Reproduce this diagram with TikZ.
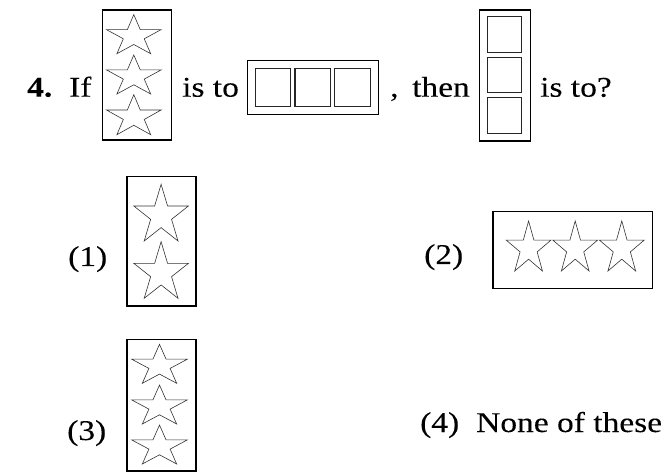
\documentclass[tikz,border=0pt]{standalone}
\usepackage{fontspec}
\setmainfont[FakeStretch=1.17,FakeBold=0.1]{Liberation Serif}
\begin{document}
\begin{tikzpicture}[x=1pt,y=-1pt,
  framebox/.style={draw=black, line width=1.4pt, inner sep=0pt, outer sep=0pt},
  cellbox/.style={draw=black!85, line width=1.1pt, inner sep=0pt, outer sep=0pt},
  starline/.style={draw=black!80, line width=0.6pt, line join=miter},
  txt/.style={anchor=base west, inner sep=0pt, font=\fontsize{28.6}{33}\selectfont}]
\useasboundingbox[fill=white] (0,0) rectangle (670,473);
\newcommand\drawstar[4]{%
  \begin{scope}[shift={(#1,#2)}, x=#3pt, y=-#4pt]
    \draw[starline] (0,0) -- (-0.118,0.382) -- (-0.5,0.382) -- (-0.191,0.618) -- (-0.309,1)
      -- (0,0.764) -- (0.309,1) -- (0.191,0.618) -- (0.5,0.382) -- (0.118,0.382) -- cycle;
  \end{scope}}
% question line
\node[txt, font=\fontsize{28.6}{33}\selectfont\bfseries] (qn) at (27,96.7) {4.};
\node[txt] (tif) at (69,96.7) {If};
\node[txt] (tis1) at (182,96.7) {is to};
\node[txt] (tcomma) at (390,96.7) {,};
\node[txt] (tthen) at (412,96.7) {then};
\node[txt] (tis2) at (540,96.7) {is to?};
% box 1: three stars
\node[framebox, minimum width=69.2pt, minimum height=130.1pt] (b1) at (136.95,75) {};
\drawstar{133.8}{14.7}{54.7}{39}
\drawstar{133.8}{55}{54.7}{39}
\drawstar{133.8}{94.7}{54.7}{40}
% box 2: three cells in a row
\node[framebox, minimum width=130.7pt, minimum height=54pt] (b2) at (313,87.65) {};
\node[cellbox, minimum width=35.3pt, minimum height=37.2pt] (c21) at (272.9,87.5) {};
\node[cellbox, minimum width=35.3pt, minimum height=37.2pt] (c22) at (312.6,87.5) {};
\node[cellbox, minimum width=35.3pt, minimum height=37.2pt] (c23) at (352.5,87.5) {};
% box 3: three cells in a column
\node[framebox, minimum width=51.3pt, minimum height=131.1pt] (b3) at (504.9,75.5) {};
\node[cellbox, minimum width=33.8pt, minimum height=35.6pt] (c31) at (504.7,34.35) {};
\node[cellbox, minimum width=33.8pt, minimum height=35.6pt] (c32) at (504.7,75) {};
\node[cellbox, minimum width=33.8pt, minimum height=35.6pt] (c33) at (504.7,115.5) {};
% option 1
\node[txt] (o1) at (68,266) {(1)};
\node[framebox, minimum width=68.8pt, minimum height=129.7pt] (ob1) at (161.55,241.2) {};
\drawstar{161.1}{184.3}{54.7}{56.7}
\drawstar{161.1}{241.7}{54.7}{56.6}
% option 2
\node[txt] (o2) at (424,264) {(2)};
\node[framebox, minimum width=159.4pt, minimum height=76.7pt] (ob2) at (572.65,250) {};
\drawstar{528.6}{221}{44.8}{50}
\drawstar{575.2}{221}{44.8}{50}
\drawstar{621.8}{221}{44.8}{50}
% option 3
\node[txt] (o3) at (67,440) {(3)};
\node[framebox, minimum width=68.8pt, minimum height=131.4pt] (ob3) at (161.55,405.35) {};
\drawstar{159.5}{344.3}{55.6}{39}
\drawstar{159.5}{385}{55.6}{39}
\drawstar{159.5}{425}{55.6}{39}
% option 4
\node[txt] (o4) at (420,432) {(4)};
\node[txt] (none) at (476,432) {None of these};
\end{tikzpicture}
\end{document}
